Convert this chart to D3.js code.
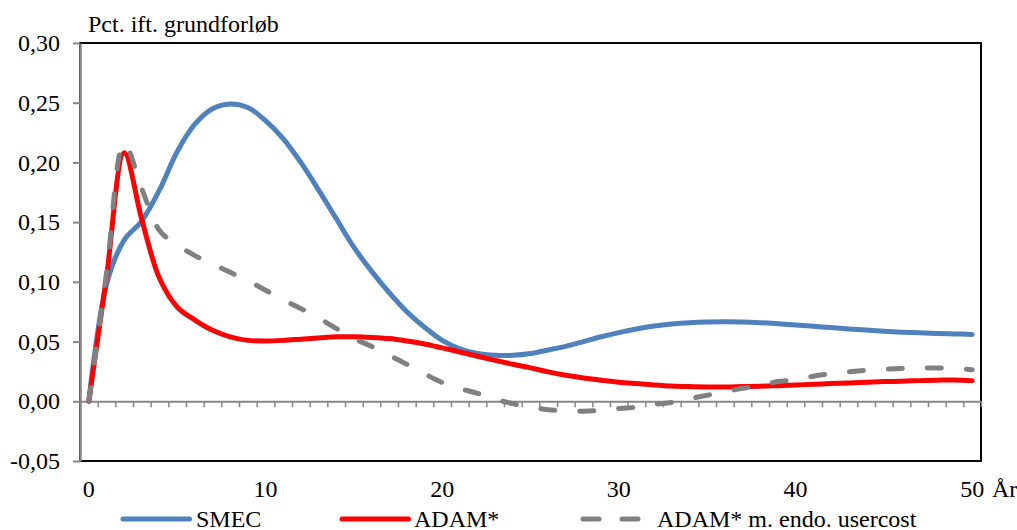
<!DOCTYPE html>
<html>
<head>
<meta charset="utf-8">
<script src="https://cdn.jsdelivr.net/npm/d3@7"></script>
<style>
  body { margin: 0; background: #fff; }
  svg text { font-family: "Liberation Serif", "Times New Roman", serif; fill: #000; }
</style>
</head>
<body>
<svg id="chart" width="1017" height="530"></svg>
<script>
// år efter stød
const years = d3.range(0, 51);

const smec = [0, 0.098, 0.135, 0.151, 0.177, 0.209, 0.232, 0.245, 0.249, 0.246,
  0.235, 0.220, 0.200, 0.177, 0.153, 0.129, 0.109, 0.091, 0.075, 0.062,
  0.051, 0.044, 0.040, 0.0385, 0.0385, 0.040, 0.043, 0.046, 0.050, 0.054,
  0.0575, 0.0605, 0.063, 0.0647, 0.0658, 0.0664, 0.0666, 0.0664, 0.0658, 0.0649,
  0.0639, 0.0628, 0.0617, 0.0606, 0.0596, 0.0587, 0.0579, 0.0573, 0.0568, 0.0564, 0.056];

const adam = [0, 0.104, 0.208, 0.152, 0.103, 0.079, 0.068, 0.0595, 0.054, 0.051,
  0.0505, 0.051, 0.052, 0.053, 0.054, 0.054, 0.0535, 0.0525, 0.0505, 0.048,
  0.0447, 0.0413, 0.0377, 0.0343, 0.031, 0.028, 0.0246, 0.0218, 0.0195, 0.0176,
  0.016, 0.0148, 0.0137, 0.0128, 0.0123, 0.012, 0.012, 0.0123, 0.0126, 0.0131,
  0.0137, 0.0142, 0.0148, 0.0153, 0.0159, 0.0165, 0.0168, 0.0173, 0.0176, 0.0179, 0.0173];

const adamEndo = [0, 0.107, 0.216, 0.178, 0.143, 0.131, 0.122, 0.115, 0.108, 0.101,
  0.093, 0.085, 0.0776, 0.0698, 0.061, 0.0525, 0.046, 0.0385, 0.031, 0.023,
  0.0157, 0.0106, 0.0067, 0.0017, -0.002, -0.005, -0.007, -0.008, -0.0084, -0.0075,
  -0.006, -0.005, -0.0025, -0.001, 0.0022, 0.005, 0.008, 0.0109, 0.013, 0.0165,
  0.018, 0.021, 0.023, 0.0246, 0.026, 0.0268, 0.0274, 0.0279, 0.0279, 0.0276, 0.0265];

const yTicks = [-0.05, 0, 0.05, 0.10, 0.15, 0.20, 0.25, 0.30];
const xLabels = [0, 10, 20, 30, 40, 50];

const series = [
  {name: "SMEC", values: smec, color: "#4f81bd", dash: null},
  {name: "ADAM*", values: adam, color: "#ff0000", dash: null},
  {name: "ADAM* m. endo. usercost", values: adamEndo, color: "#808080", dash: "14,25"}
];

const plotL = 80, plotR = 981, plotT = 43, plotB = 461;
const fontSize = 24;
const svg = d3.select("#chart");

const x = d3.scaleBand().domain(years).range([plotL, plotR]);
const xc = d => x(d) + x.bandwidth() / 2;
const xEdge = d3.scaleLinear().domain([0, years.length]).range([plotL, plotR]);
const y = d3.scaleLinear().domain([-0.05, 0.30]).range([plotB, plotT]);

const fmt = d3.formatLocale({decimal: ",", thousands: ".", grouping: [3], currency: ["", " kr"], minus: "-"}).format(".2f");

// ramme
svg.append("rect")
  .attr("x", plotL).attr("y", plotT)
  .attr("width", plotR - plotL).attr("height", plotB - plotT)
  .attr("fill", "none").attr("stroke", "#000").attr("stroke-width", 2);

// y-akse
const yAxis = svg.append("g")
  .attr("transform", `translate(${plotL},0)`)
  .call(d3.axisLeft(y).tickValues(yTicks).tickFormat(fmt).tickSizeInner(7).tickSizeOuter(0).tickPadding(13));
yAxis.select(".domain").attr("stroke", "#868686").attr("stroke-width", 2.5);
yAxis.selectAll(".tick line").attr("stroke", "#868686").attr("stroke-width", 2);
yAxis.selectAll("text").attr("font-size", fontSize).attr("font-family", "Liberation Serif");

// nul-linje med streger
const zeroAxis = svg.append("g")
  .attr("transform", `translate(0,${y(0)})`)
  .call(d3.axisBottom(xEdge).tickValues(d3.range(0, years.length + 1)).tickFormat("").tickSizeInner(6).tickSizeOuter(0));
zeroAxis.select(".domain").attr("stroke", "#868686").attr("stroke-width", 2);
zeroAxis.selectAll(".tick line").attr("stroke", "#868686").attr("stroke-width", 1.5);

// x-etiketter
const xAxis = svg.append("g")
  .attr("transform", `translate(0,${plotB})`)
  .call(d3.axisBottom(x).tickValues(xLabels).tickSize(0).tickPadding(19));
xAxis.select(".domain").remove();
xAxis.selectAll("text").attr("font-size", fontSize).attr("font-family", "Liberation Serif");

svg.append("text")
  .attr("x", 992).attr("y", 497)
  .attr("font-size", fontSize)
  .text("År");

svg.append("text")
  .attr("x", 88).attr("y", 32)
  .attr("font-size", fontSize)
  .text("Pct. ift. grundforløb");

// linjer
const line = d3.line()
  .x((d, i) => xc(years[i]))
  .y(d => y(d))
  .curve(d3.curveCatmullRom.alpha(0.5));

svg.selectAll(".series")
  .data(series)
  .join("path")
  .attr("class", "series")
  .attr("d", d => line(d.values))
  .attr("fill", "none")
  .attr("stroke", d => d.color)
  .attr("stroke-width", 5)
  .attr("stroke-linecap", "round")
  .attr("stroke-linejoin", "round")
  .attr("stroke-dasharray", d => d.dash);

// legende
const legendPos = [120, 339, 580];
const legendText = [196, 414, 657];
const legend = svg.selectAll(".legend")
  .data(series)
  .join("g")
  .attr("class", "legend");

legend.append("line")
  .attr("x1", (d, i) => legendPos[i] + 3)
  .attr("x2", (d, i) => i === 2 ? legendPos[i] + 62.5 : legendPos[i] + 69.5)
  .attr("y1", 519).attr("y2", 519)
  .attr("stroke", d => d.color)
  .attr("stroke-width", 5)
  .attr("stroke-linecap", "round")
  .attr("stroke-dasharray", d => d.dash ? "16,23" : null);

legend.append("text")
  .attr("x", (d, i) => legendText[i])
  .attr("y", 527)
  .attr("font-size", fontSize)
  .text(d => d.name);
</script>
</body>
</html>
